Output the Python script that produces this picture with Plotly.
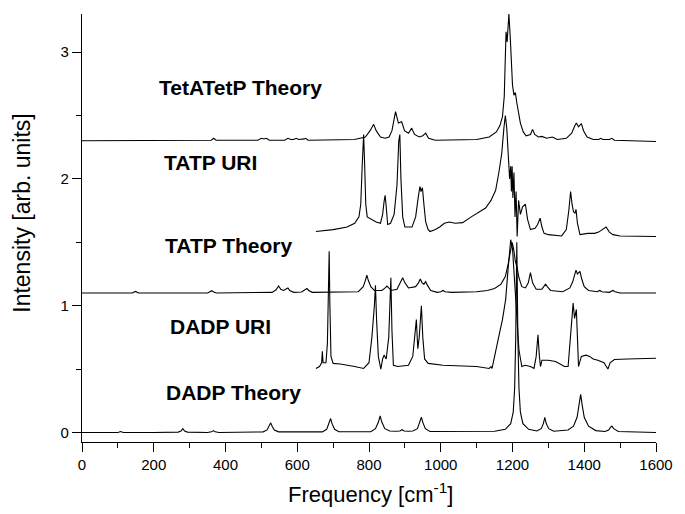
import plotly.graph_objects as go

# ---- spectra: (frequency [cm^-1], intensity [arb. units]) ----
dadp_theory = [
    (0, 0), (100, 0), (108, 0.008), (115, 0), (200, 0), (268, 0.003), (276, 0.012),
    (281, 0.03), (286, 0.012), (294, 0.003), (350, 0), (361, 0.005), (366, 0.015),
    (371, 0.005), (382, 0), (505, 0.005), (516, 0.02), (522, 0.05), (526, 0.076),
    (530, 0.05), (536, 0.02), (548, 0.005), (670, 0.005), (682, 0.025), (689, 0.07),
    (693, 0.11), (697, 0.07), (704, 0.025), (716, 0.006), (805, 0.006), (818, 0.03),
    (826, 0.08), (831, 0.13), (836, 0.08), (844, 0.03), (858, 0.012), (875, 0.01),
    (886, 0.012), (892, 0.022), (898, 0.012), (910, 0.01), (922, 0.012), (935, 0.03),
    (942, 0.08), (946, 0.12), (950, 0.08), (957, 0.03), (970, 0.008), (1150, 0.01),
    (1180, 0.025), (1195, 0.07), (1202, 0.16), (1206, 0.35), (1209, 0.75), (1212, 1.5),
    (1215, 0.75), (1218, 0.35), (1222, 0.16), (1229, 0.07), (1245, 0.025), (1268, 0.012),
    (1280, 0.03), (1286, 0.07), (1290, 0.12), (1294, 0.07), (1301, 0.03), (1315, 0.01),
    (1355, 0.02), (1370, 0.05), (1380, 0.12), (1386, 0.22), (1390, 0.30), (1394, 0.22),
    (1400, 0.12), (1412, 0.05), (1432, 0.015), (1458, 0.008), (1468, 0.02), (1473, 0.04),
    (1477, 0.05), (1482, 0.03), (1495, 0.008), (1600, 0),
]

dadp_uri = [
    (652, 0.505), (662, 0.52), (668, 0.55), (670, 0.64), (672, 0.55), (680, 0.55),
    (684, 0.7), (687, 1.1), (689, 1.43), (691, 1.0), (694, 0.6), (700, 0.545),
    (720, 0.54), (760, 0.52), (785, 0.505), (800, 0.55), (808, 0.75), (815, 1.0),
    (818, 1.16), (821, 0.9), (826, 0.6), (833, 0.5), (838, 0.58), (842, 0.61),
    (848, 0.58), (855, 0.75), (859, 1.0), (861, 1.22), (864, 0.8), (868, 0.53),
    (880, 0.52), (910, 0.53), (922, 0.6), (928, 0.8), (932, 0.89), (936, 0.66),
    (940, 0.75), (946, 1.0), (950, 0.75), (955, 0.58), (965, 0.545), (1006, 0.53),
    (1050, 0.525), (1100, 0.52), (1135, 0.505), (1140, 0.52), (1143, 0.505),
    (1153, 0.65), (1165, 0.8), (1172, 0.89), (1181, 1.05), (1188, 1.3), (1195, 1.52),
    (1200, 1.45), (1205, 1.2), (1212, 0.9), (1218, 0.65), (1226, 0.52), (1235, 0.53),
    (1250, 0.52), (1260, 0.505), (1266, 0.6), (1271, 0.77), (1275, 0.6), (1278, 0.52),
    (1282, 0.57), (1300, 0.57), (1320, 0.56), (1345, 0.52), (1355, 0.52), (1362, 0.75),
    (1369, 1.02), (1373, 0.9), (1378, 0.97), (1381, 0.75), (1384, 0.52), (1392, 0.6),
    (1405, 0.61), (1415, 0.6), (1425, 0.58), (1438, 0.57), (1455, 0.55), (1466, 0.50),
    (1472, 0.55), (1484, 0.575), (1520, 0.58), (1600, 0.585),
]

tatp_theory = [
    (0, 1.10), (140, 1.10), (149, 1.112), (158, 1.10), (350, 1.10), (357, 1.108),
    (362, 1.118), (367, 1.108), (375, 1.10), (530, 1.105), (541, 1.125), (548, 1.155),
    (554, 1.13), (562, 1.12), (569, 1.13), (574, 1.14), (579, 1.12), (590, 1.105),
    (612, 1.108), (622, 1.122), (627, 1.135), (632, 1.12), (642, 1.105), (770, 1.11),
    (784, 1.15), (790, 1.2), (794, 1.24), (798, 1.2), (805, 1.15), (815, 1.12),
    (836, 1.12), (845, 1.14), (850, 1.155), (855, 1.14), (862, 1.12), (878, 1.13),
    (888, 1.18), (894, 1.22), (900, 1.18), (910, 1.14), (930, 1.15), (938, 1.18),
    (943, 1.21), (948, 1.18), (953, 1.17), (958, 1.19), (963, 1.16), (972, 1.12),
    (990, 1.105), (1000, 1.11), (1006, 1.12), (1012, 1.11), (1030, 1.105), (1100, 1.11),
    (1130, 1.12), (1150, 1.135), (1168, 1.17), (1180, 1.23), (1188, 1.33), (1194, 1.43),
    (1199, 1.50), (1203, 1.45), (1208, 1.35), (1213, 1.30), (1218, 1.22), (1226, 1.15),
    (1236, 1.14), (1244, 1.18), (1250, 1.26), (1256, 1.18), (1266, 1.13), (1282, 1.13),
    (1288, 1.15), (1292, 1.17), (1297, 1.15), (1306, 1.12), (1340, 1.11), (1360, 1.14),
    (1368, 1.19), (1374, 1.26), (1377, 1.28), (1381, 1.25), (1385, 1.26), (1388, 1.27),
    (1393, 1.21), (1400, 1.15), (1412, 1.12), (1436, 1.11), (1443, 1.12), (1449, 1.11),
    (1470, 1.105), (1476, 1.115), (1480, 1.12), (1486, 1.11), (1500, 1.10), (1600, 1.10),
]

tatp_uri = [
    (652, 1.585), (680, 1.595), (700, 1.60), (739, 1.62), (760, 1.65), (772, 1.70),
    (777, 1.8), (781, 2.1), (785, 2.35), (788, 2.1), (791, 1.8), (795, 1.70),
    (820, 1.66), (832, 1.65), (838, 1.72), (842, 1.82), (845, 1.87), (848, 1.78),
    (852, 1.64), (860, 1.65), (870, 1.72), (878, 1.95), (883, 2.3), (886, 2.35),
    (889, 2.0), (894, 1.7), (900, 1.62), (920, 1.62), (930, 1.7), (937, 1.85),
    (942, 1.94), (945, 1.90), (949, 1.93), (953, 1.8), (958, 1.66), (965, 1.60),
    (970, 1.585), (985, 1.60), (997, 1.62), (1010, 1.65), (1024, 1.66), (1040, 1.65),
    (1061, 1.655), (1085, 1.70), (1103, 1.73), (1125, 1.77), (1140, 1.83), (1153, 1.91),
    (1162, 2.05), (1170, 2.2), (1176, 2.4), (1180, 2.50), (1184, 2.4), (1188, 2.2),
    (1192, 2.0), (1195, 2.1), (1197, 1.9), (1199, 2.1), (1201, 1.85), (1204, 2.05),
    (1207, 1.7), (1210, 1.9), (1213, 1.545), (1217, 1.83), (1222, 1.72), (1228, 1.78),
    (1236, 1.80), (1242, 1.68), (1250, 1.60), (1263, 1.61), (1270, 1.64), (1277, 1.69),
    (1282, 1.62), (1288, 1.57), (1300, 1.56), (1337, 1.55), (1350, 1.60), (1357, 1.75),
    (1362, 1.90), (1366, 1.80), (1370, 1.74), (1374, 1.73), (1377, 1.76), (1381, 1.65),
    (1388, 1.56), (1410, 1.57), (1429, 1.57), (1440, 1.58), (1450, 1.60), (1461, 1.62),
    (1470, 1.58), (1480, 1.56), (1500, 1.55), (1600, 1.545),
]

tetatetp_theory = [
    (0, 2.30), (80, 2.30), (110, 2.302), (130, 2.30), (145, 2.304), (150, 2.30),
    (300, 2.30), (360, 2.305), (367, 2.32), (374, 2.305), (490, 2.305), (500, 2.32),
    (507, 2.315), (514, 2.32), (522, 2.305), (565, 2.305), (574, 2.32), (582, 2.31),
    (590, 2.31), (597, 2.32), (604, 2.31), (612, 2.31), (620, 2.315), (624, 2.32),
    (630, 2.305), (760, 2.31), (790, 2.33), (803, 2.38), (813, 2.43), (820, 2.38),
    (832, 2.33), (845, 2.32), (856, 2.33), (864, 2.38), (874, 2.53), (882, 2.44),
    (891, 2.45), (899, 2.38), (910, 2.36), (919, 2.40), (927, 2.35), (940, 2.33),
    (950, 2.34), (958, 2.36), (966, 2.32), (985, 2.305), (1060, 2.305), (1100, 2.31),
    (1135, 2.33), (1155, 2.37), (1165, 2.42), (1172, 2.49), (1177, 2.65), (1180, 2.89),
    (1182, 3.16), (1185, 3.08), (1188, 3.2), (1190, 3.30), (1194, 3.10), (1197, 2.85),
    (1200, 2.74), (1204, 2.66), (1208, 2.68), (1212, 2.60), (1217, 2.50), (1222, 2.44),
    (1230, 2.37), (1238, 2.34), (1250, 2.35), (1256, 2.39), (1262, 2.35), (1272, 2.33),
    (1282, 2.335), (1295, 2.32), (1311, 2.33), (1325, 2.31), (1350, 2.32), (1365, 2.36),
    (1374, 2.42), (1378, 2.44), (1384, 2.41), (1392, 2.435), (1398, 2.38), (1408, 2.33),
    (1425, 2.31), (1440, 2.31), (1446, 2.32), (1452, 2.31), (1470, 2.31), (1477, 2.32),
    (1484, 2.305), (1560, 2.30), (1570, 2.295), (1600, 2.295),
]

# label text and its (frequency, intensity) anchor
labels = [
    ("TetATetP Theory", 443, 2.72),
    ("TATP URI", 358, 2.13),
    ("TATP Theory", 410, 1.478),
    ("DADP URI", 385, 0.832),
    ("DADP Theory", 421, 0.319),
]

x_ticks = list(range(0, 1601, 200))
y_ticks = [0, 1, 2, 3]

FONT = "Liberation Sans, Arial, Helvetica, sans-serif"

fig = go.Figure()
for name, pts in [
    ("DADP Theory", dadp_theory),
    ("DADP URI", dadp_uri),
    ("TATP Theory", tatp_theory),
    ("TATP URI", tatp_uri),
    ("TetATetP Theory", tetatetp_theory),
]:
    xs, ys = zip(*pts)
    fig.add_trace(go.Scatter(x=list(xs), y=list(ys), mode="lines", name=name,
                             line=dict(color="black", width=1.1)))

for text, fx, fy in labels:
    fig.add_annotation(x=fx, y=fy, text=f"<b>{text}</b>", showarrow=False,
                       font=dict(family=FONT, size=21, color="black"),
                       xanchor="center", yanchor="middle")

# axis titles
fig.add_annotation(xref="paper", yref="paper", x=0.503, y=-0.119,
                   text="Frequency [cm<sup>-1</sup>]", showarrow=False,
                   font=dict(family=FONT, size=22, color="black"),
                   xanchor="center", yanchor="middle")
fig.add_annotation(xref="paper", yref="paper", x=-0.105, y=0.535,
                   text="Intensity [arb. units]", showarrow=False, textangle=-90,
                   font=dict(family=FONT, size=23, color="black"),
                   xanchor="center", yanchor="middle")

axis_common = dict(showline=True, linecolor="black", linewidth=1.3,
                   ticks="outside", ticklen=9, tickwidth=1.3, tickcolor="black",
                   showgrid=False, zeroline=False,
                   tickfont=dict(family=FONT, size=15, color="black"))

fig.update_layout(
    width=685, height=514,
    margin=dict(l=82, r=23, t=14, b=72),
    paper_bgcolor="white", plot_bgcolor="white",
    showlegend=False,
    xaxis=dict(range=[0, 1600], tickvals=x_ticks,
               minor=dict(dtick=100, ticklen=5, tickwidth=1.3, tickcolor="black",
                          ticks="outside", showgrid=False),
               **axis_common),
    yaxis=dict(range=[-0.075, 3.3], tickvals=y_ticks,
               minor=dict(dtick=0.5, ticklen=5, tickwidth=1.3, tickcolor="black",
                          ticks="outside", showgrid=False),
               **axis_common),
)

fig.write_html("out.html")
